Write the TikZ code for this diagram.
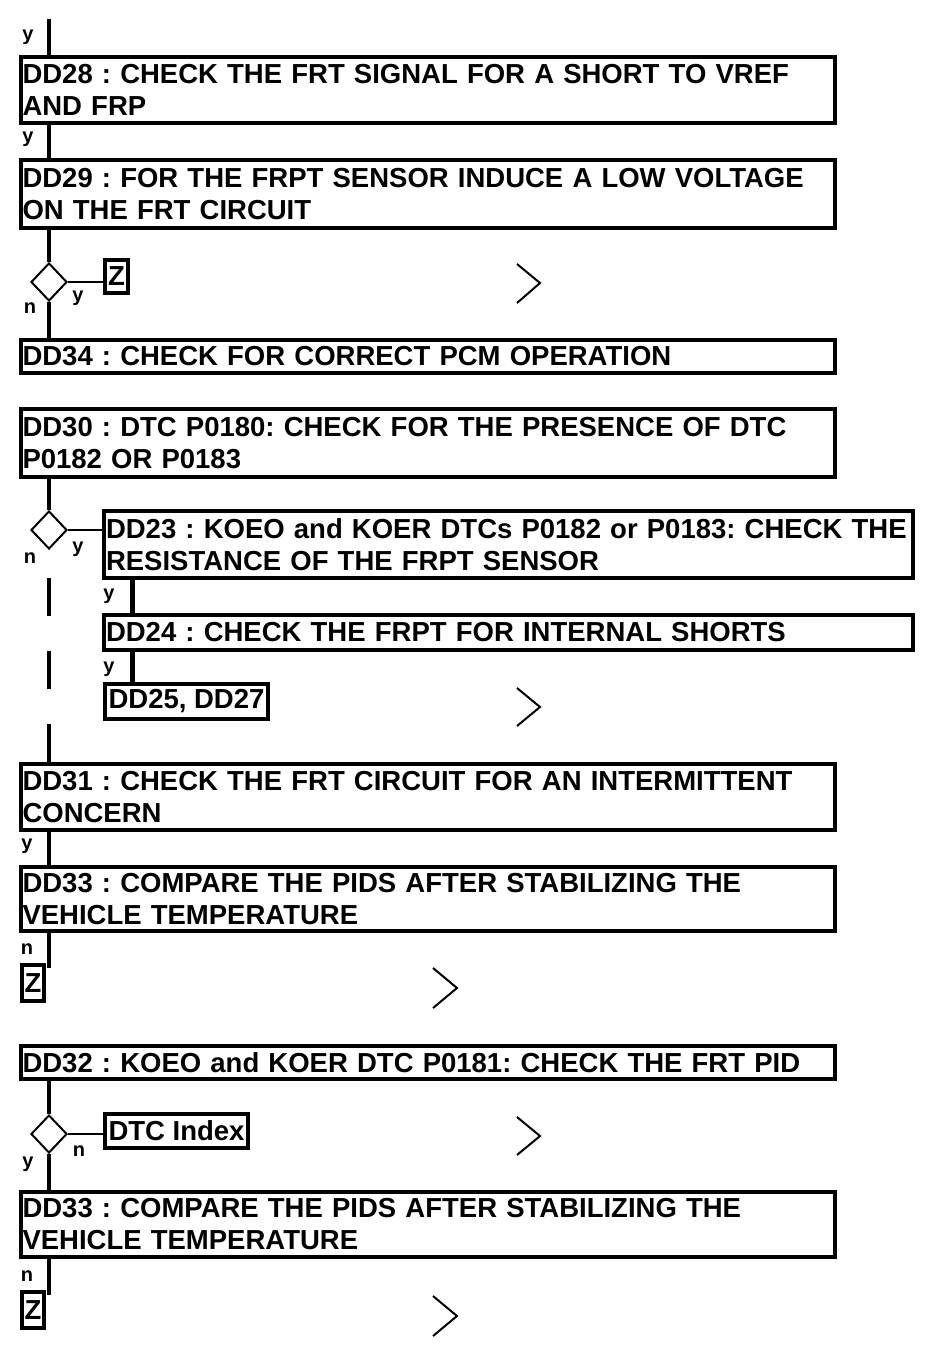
\documentclass[tikz,border=0pt]{standalone}
\usepackage{fontspec}
\setmainfont{Liberation Sans}
\usetikzlibrary{shapes.geometric}
\frenchspacing
\begin{document}
\begin{tikzpicture}[x=1pt,y=-1pt,
  bx/.style={draw, line width=4pt, anchor=north west, outer sep=0pt, inner xsep=2pt, inner ysep=0pt, align=left, font=\fontsize{27.5}{32}\selectfont\bfseries\frenchspacing},
  wide/.style={minimum width=814pt, text width=810pt},
  wideb/.style={minimum width=809pt, text width=805pt},
  lab/.style={font=\fontsize{20}{21}\selectfont\bfseries, inner sep=0pt},
  vl/.style={line width=4.5pt},
  hl/.style={line width=2.5pt},
  dia/.style={draw, diamond, line width=2pt, minimum width=36pt, minimum height=38pt, inner sep=0pt},
  chev/.style={line width=2pt}]
\useasboundingbox (0,0) rectangle (944,1356);

% boxes
\node[bx, wide, minimum height=66pt] (b28) at (20.5,57) {DD28 : CHECK THE FRT SIGNAL FOR A SHORT TO VREF\\AND FRP};
\node[bx, wide, minimum height=68pt] (b29) at (20.5,160) {DD29 : FOR THE FRPT SENSOR INDUCE A LOW VOLTAGE\\ON THE FRT CIRCUIT};
\node[dia] (d1) at (49,282) {};
\node[bx, minimum width=23pt, minimum height=33pt, inner xsep=0pt] (z1) at (105,260) {Z};
\node[bx, wide, minimum height=33pt] (b34) at (20.5,340) {DD34 : CHECK FOR CORRECT PCM OPERATION};

\node[bx, wide, minimum height=68pt] (b30) at (20.5,409) {DD30 : DTC P0180: CHECK FOR THE PRESENCE OF DTC\\P0182 OR P0183};
\node[dia] (d2) at (49,530) {};
\node[bx, wideb, minimum height=67pt] (b23) at (104,511) {\mbox{DD23 : KOEO and KOER DTCs P0182 or P0183: CHECK THE}\\RESISTANCE OF THE FRPT SENSOR};
\node[bx, wideb, minimum height=35pt] (b24) at (104,615) {DD24 : CHECK THE FRPT FOR INTERNAL SHORTS};
\node[bx, minimum width=163pt, minimum height=35pt] (b25) at (105,684) {DD25, DD27};

\node[bx, wide, minimum height=66pt] (b31) at (20.5,764) {DD31 : CHECK THE FRT CIRCUIT FOR AN INTERMITTENT\\CONCERN};
\node[bx, wide, minimum height=64pt] (b33) at (20.5,867) {DD33 : COMPARE THE PIDS AFTER STABILIZING THE\\VEHICLE TEMPERATURE};
\node[bx, minimum width=22pt, minimum height=36pt, inner xsep=0pt] (z2) at (22,965) {Z};

\node[bx, wide, minimum height=33pt] (b32) at (20.5,1046) {DD32 : KOEO and KOER DTC P0181: CHECK THE FRT PID};
\node[dia] (d3) at (49,1134) {};
\node[bx, minimum width=143pt, minimum height=34pt] (dtc) at (105,1114) {DTC Index};
\node[bx, wide, minimum height=65pt] (b33b) at (20.5,1192) {DD33 : COMPARE THE PIDS AFTER STABILIZING THE\\VEHICLE TEMPERATURE};
\node[bx, minimum width=22pt, minimum height=36pt, inner xsep=0pt] (z3) at (22,1292) {Z};

% connectors
\coordinate (s0) at (49,19);
\coordinate (s1) at (132.5,0);
\coordinate (e1) at (49,968);
\coordinate (e2) at (49,1295);
\draw[vl] (s0) -- (s0 |- b28.north);
\draw[vl] (b28.south -| s0) -- (b29.north -| s0);
\draw[vl] (b29.south -| s0) -- (d1.north);
\draw[hl] (d1.east) -- (z1.west |- d1);
\draw[vl] (d1.south) -- (b34.north -| d1);
\draw[vl] (b30.south -| s0) -- (d2.north);
\draw[hl] (d2.east) -- (b23.west |- d2);
\draw[vl] (b23.south -| s1) -- (b24.north -| s1);
\draw[vl] (b24.south -| s1) -- (b25.north -| s1);
\draw[vl, dash pattern=on 38pt off 35pt, dash phase=45pt] (d2.south) -- (b31.north -| d2);
\draw[vl] (b31.south -| s0) -- (b33.north -| s0);
\draw[vl] (b33.south -| s0) -- (e1);
\draw[vl] (b32.south -| s0) -- (d3.north);
\draw[hl] (d3.east) -- (dtc.west |- d3);
\draw[vl] (d3.south) -- (b33b.north -| d3);
\draw[vl] (b33b.south -| s0) -- (e2);

% labels
\node[lab] (ly1) at (28,37) {y};
\node[lab] (ly2) at (28,139) {y};
\node[lab] (ly3) at (78,298) {y};
\node[lab] (ln1) at (30,308) {n};
\node[lab] (ly4) at (78,549) {y};
\node[lab] (ln2) at (30,558) {n};
\node[lab] (ly5) at (109,596) {y};
\node[lab] (ly6) at (109,669) {y};
\node[lab] (ly7) at (27,846) {y};
\node[lab] (ln3) at (27,949) {n};
\node[lab] (ln4) at (79,1151) {n};
\node[lab] (ly8) at (28,1164) {y};
\node[lab] (ln5) at (27,1276) {n};

% chevrons
\draw[chev] (517,264) -- (540,283) -- (517,303);
\draw[chev] (517,688) -- (540,707) -- (517,726);
\draw[chev] (433,968) -- (457,988) -- (433,1008);
\draw[chev] (517,1117) -- (540,1136) -- (517,1155);
\draw[chev] (433,1296) -- (457,1316) -- (433,1336);
\end{tikzpicture}
\end{document}
